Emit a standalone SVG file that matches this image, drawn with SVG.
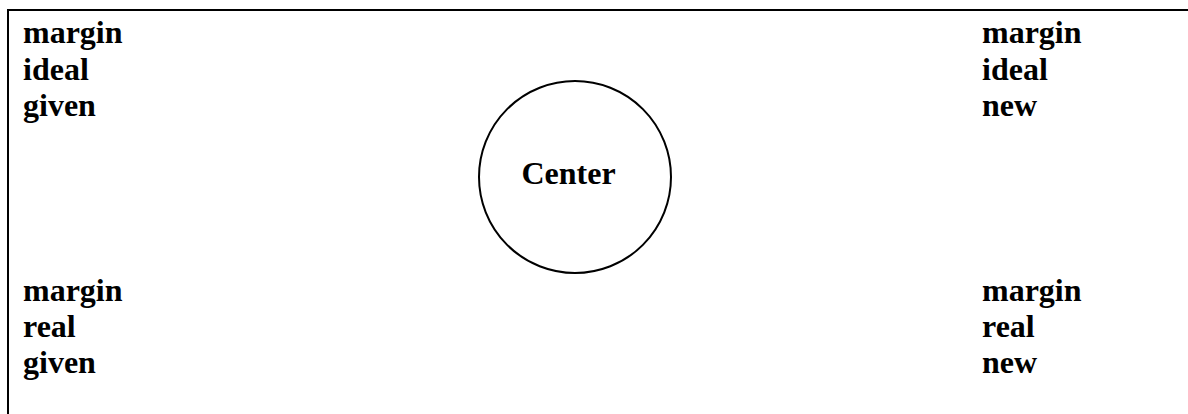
<svg xmlns="http://www.w3.org/2000/svg" width="1188" height="414" viewBox="0 0 1188 414">
<style>
text{font-family:"Liberation Serif","Times New Roman",serif;font-weight:bold;font-size:32px;fill:#000}
.frame{stroke:#000;stroke-width:2;fill:none}
.node{stroke:#000;stroke-width:2;fill:#fff}
</style>
<rect width="1188" height="414" fill="#fff"/>
<g id="frame"><path class="frame" d="M8,414 V10 H1188"/></g>
<g id="top-left"><text x="23" y="43">margin</text><text x="23" y="80">ideal</text><text x="23" y="116">given</text></g>
<g id="top-right"><text x="982" y="43">margin</text><text x="982" y="80">ideal</text><text x="982" y="116">new</text></g>
<g id="center"><circle class="node" cx="575" cy="177" r="96"/><text x="568.5" y="184" text-anchor="middle">Center</text></g>
<g id="bottom-left"><text x="23" y="301">margin</text><text x="23" y="337">real</text><text x="23" y="373">given</text></g>
<g id="bottom-right"><text x="982" y="301">margin</text><text x="982" y="337">real</text><text x="982" y="373">new</text></g>
<g id="connectors"/>
</svg>
